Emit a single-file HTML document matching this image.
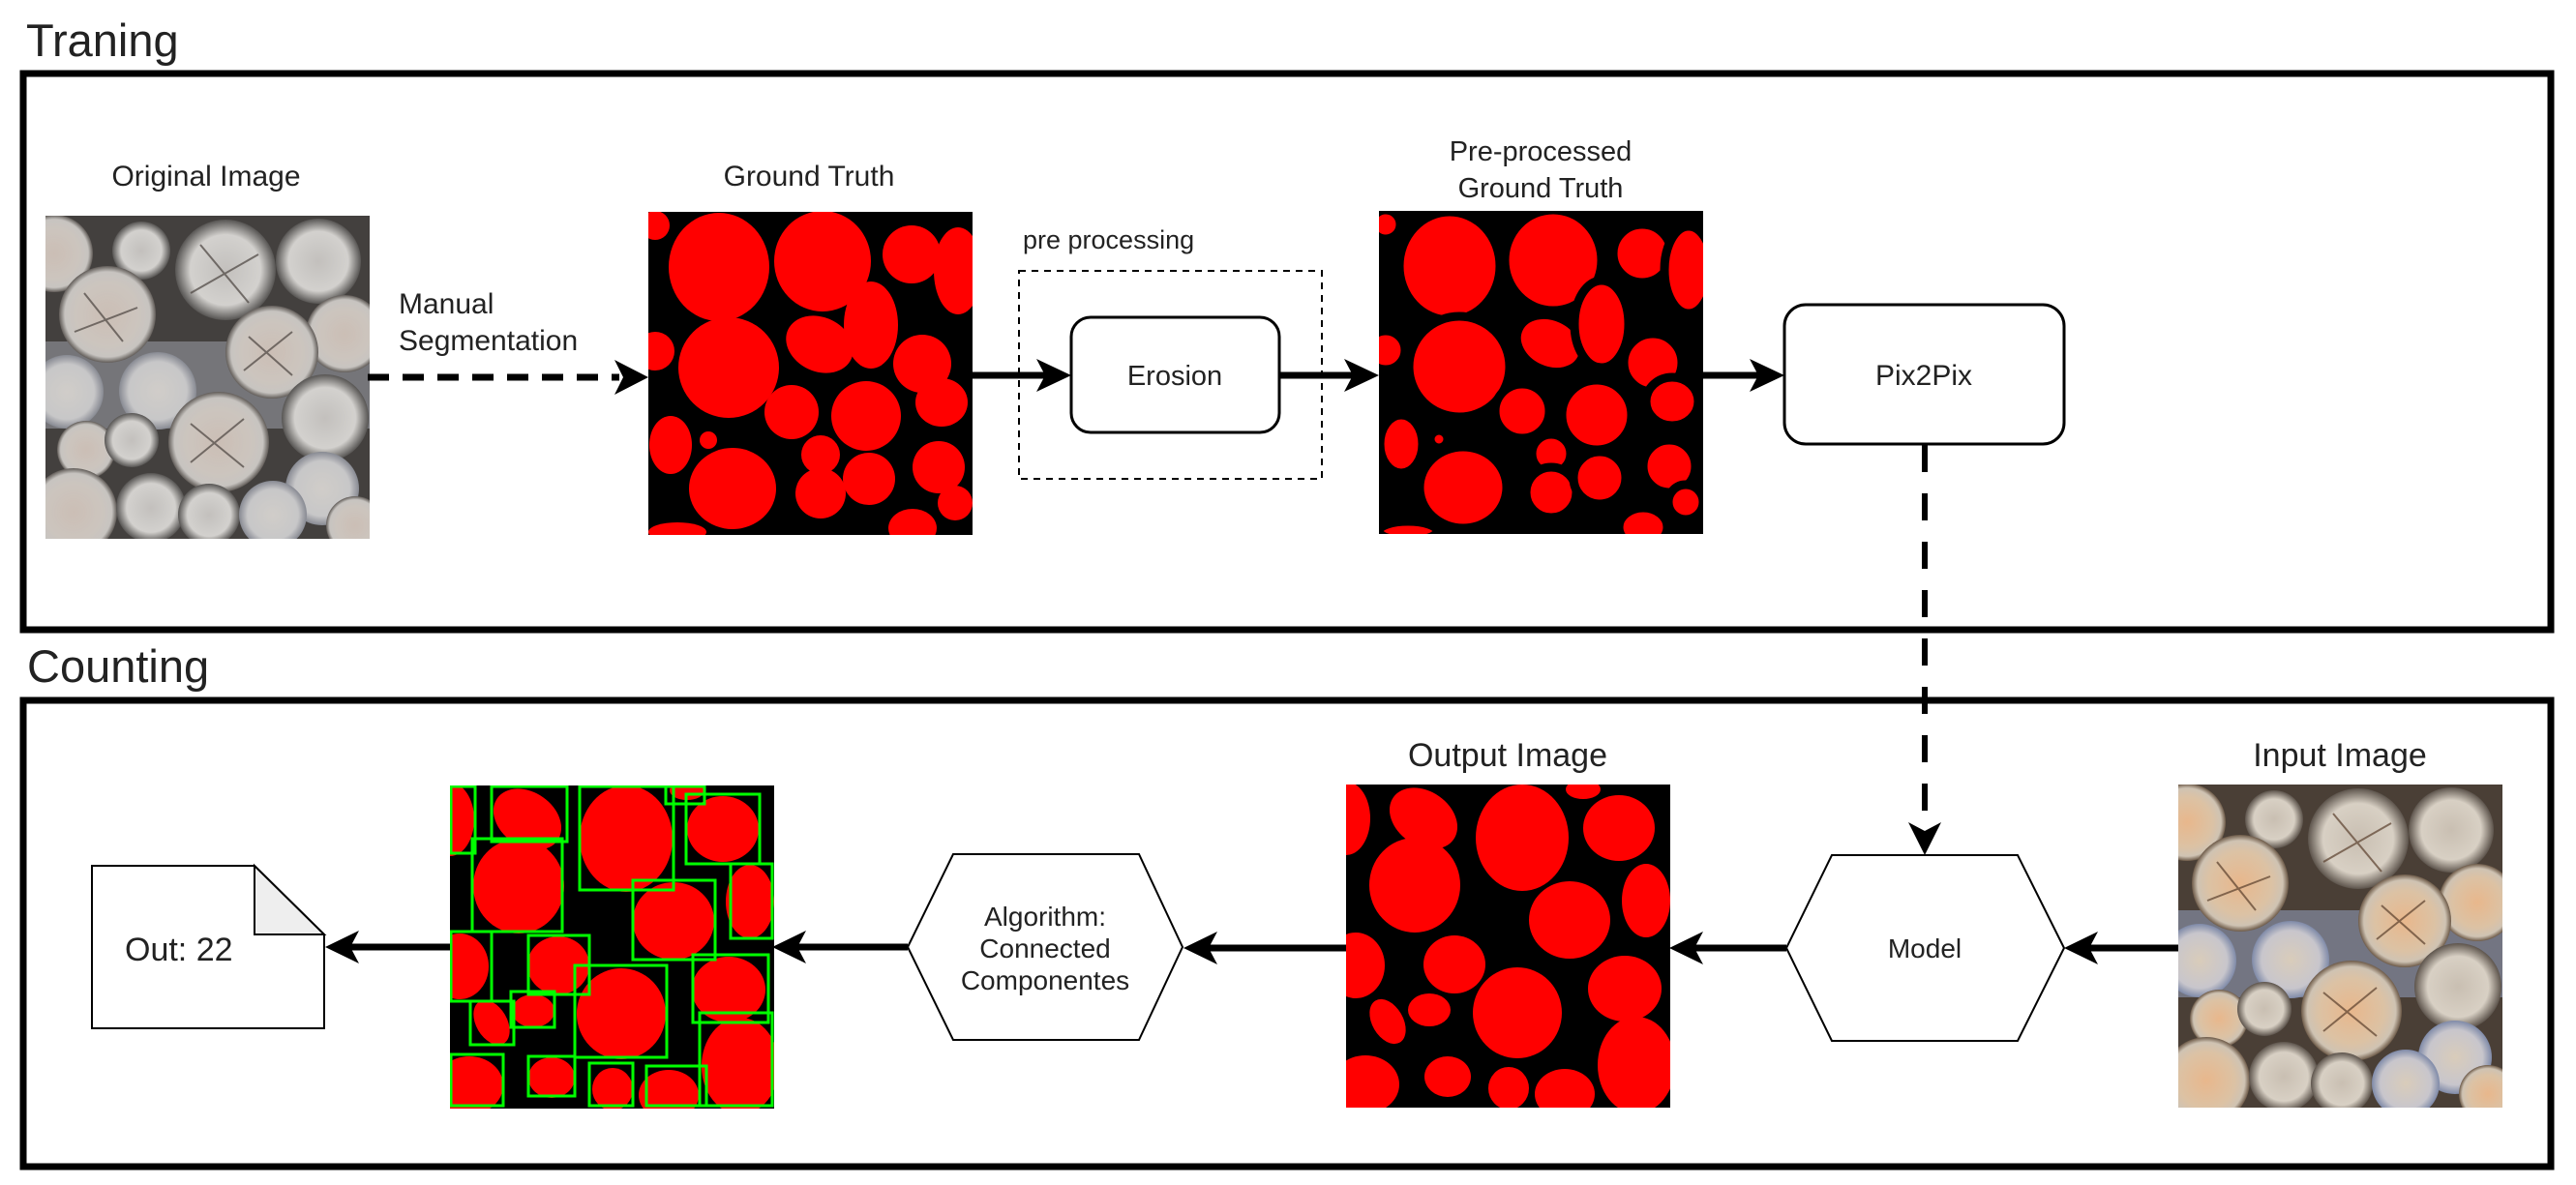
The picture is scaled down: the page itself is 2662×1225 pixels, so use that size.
<!DOCTYPE html>
<html><head><meta charset="utf-8"><style>
html,body{margin:0;padding:0;background:#fff;}
svg{display:block;}
text{font-family:"Liberation Sans",Arial,sans-serif;fill:#222;}
</style></head><body>
<svg width="2662" height="1225" viewBox="0 0 2662 1225" xmlns="http://www.w3.org/2000/svg">
<defs>
  <radialGradient id="lw" cx="50%" cy="50%" r="50%">
    <stop offset="0%" stop-color="#e8b78c"/><stop offset="65%" stop-color="#dcc2a4"/><stop offset="88%" stop-color="#cfc3b3"/><stop offset="100%" stop-color="#6d5a48"/>
  </radialGradient>
  <radialGradient id="lg" cx="50%" cy="50%" r="50%">
    <stop offset="0%" stop-color="#c9bfb2"/><stop offset="70%" stop-color="#d8d0c4"/><stop offset="100%" stop-color="#5d544c"/>
  </radialGradient>
  <radialGradient id="lb" cx="50%" cy="50%" r="50%">
    <stop offset="0%" stop-color="#d9ccba"/><stop offset="75%" stop-color="#c8c6cc"/><stop offset="100%" stop-color="#7f8aa8"/>
  </radialGradient>
  <filter id="desat"><feColorMatrix type="saturate" values="0.25"/></filter>
  <clipPath id="c333"><rect x="0" y="0" width="335" height="334"/></clipPath>
  <g id="wood">
    <rect x="0" y="0" width="335" height="334" fill="#4a3f36"/>
    <rect x="0" y="130" width="335" height="90" fill="#8f9ab6" opacity="0.6"/>
    <circle cx="9" cy="39" r="40" fill="url(#lw)"/>
    <circle cx="99" cy="36" r="30" fill="url(#lg)"/>
    <circle cx="186" cy="56" r="52" fill="url(#lg)"/>
    <circle cx="282" cy="47" r="44" fill="url(#lg)"/>
    <circle cx="64" cy="102" r="50" fill="url(#lw)"/>
    <circle cx="309" cy="122" r="40" fill="url(#lw)"/>
    <circle cx="234" cy="141" r="48" fill="url(#lw)"/>
    <circle cx="22" cy="182" r="38" fill="url(#lb)"/>
    <circle cx="116" cy="181" r="40" fill="url(#lb)"/>
    <circle cx="289" cy="209" r="45" fill="url(#lg)"/>
    <circle cx="42" cy="242" r="30" fill="url(#lw)"/>
    <circle cx="89" cy="232" r="28" fill="url(#lg)"/>
    <circle cx="179" cy="234" r="52" fill="url(#lw)"/>
    <circle cx="286" cy="282" r="38" fill="url(#lb)"/>
    <circle cx="29" cy="306" r="45" fill="url(#lw)"/>
    <circle cx="109" cy="302" r="36" fill="url(#lg)"/>
    <circle cx="169" cy="309" r="32" fill="url(#lg)"/>
    <circle cx="235" cy="309" r="35" fill="url(#lb)"/>
    <circle cx="320" cy="320" r="30" fill="url(#lw)"/>
    <g stroke="#5a3f2c" stroke-width="2" fill="none" opacity="0.7">
      <path d="M40 80 L80 130 M30 120 L95 95"/><path d="M160 30 L210 90 M150 80 L220 40"/>
      <path d="M210 125 L255 165 M205 160 L255 120"/><path d="M150 215 L205 260 M150 255 L205 210"/>
    </g>
  </g>
  <g id="gt" fill="#ff0000">
    <ellipse cx="7" cy="14" rx="15" ry="15"/>
    <ellipse cx="73" cy="57" rx="52" ry="56"/>
    <ellipse cx="180" cy="51" rx="50" ry="52"/>
    <circle cx="272" cy="44" r="30"/>
    <ellipse cx="320" cy="61" rx="25" ry="45"/>
    <circle cx="83" cy="161" r="52"/>
    <ellipse cx="177" cy="137" rx="36" ry="28" transform="rotate(25 177 137)"/>
    <ellipse cx="230" cy="117" rx="28" ry="45"/>
    <circle cx="283" cy="157" r="30"/>
    <ellipse cx="303" cy="197" rx="27" ry="25"/>
    <circle cx="7" cy="144" r="20"/>
    <circle cx="148" cy="207" r="28"/>
    <circle cx="225" cy="211" r="36"/>
    <ellipse cx="23" cy="241" rx="22" ry="30"/>
    <circle cx="62" cy="236" r="9"/>
    <ellipse cx="87" cy="286" rx="45" ry="42"/>
    <circle cx="178" cy="251" r="20"/>
    <circle cx="178" cy="291" r="26"/>
    <circle cx="228" cy="276" r="27"/>
    <circle cx="300" cy="264" r="27"/>
    <circle cx="317" cy="301" r="18"/>
    <ellipse cx="273" cy="327" rx="25" ry="20"/>
    <ellipse cx="30" cy="331" rx="30" ry="10"/>
  </g>
  <g id="out" fill="#ff0000">
    <ellipse cx="0" cy="35" rx="25" ry="38"/>
    <ellipse cx="80" cy="35" rx="38" ry="28" transform="rotate(35 80 35)"/>
    <ellipse cx="182" cy="55" rx="48" ry="55"/>
    <ellipse cx="282" cy="45" rx="37" ry="34"/>
    <ellipse cx="245" cy="5" rx="18" ry="10"/>
    <ellipse cx="71" cy="104" rx="47" ry="49"/>
    <ellipse cx="231" cy="140" rx="42" ry="40"/>
    <ellipse cx="310" cy="120" rx="25" ry="38"/>
    <ellipse cx="10" cy="187" rx="30" ry="34"/>
    <ellipse cx="112" cy="186" rx="32" ry="30"/>
    <ellipse cx="288" cy="211" rx="38" ry="34"/>
    <ellipse cx="177" cy="236" rx="46" ry="47"/>
    <ellipse cx="86" cy="233" rx="22" ry="17"/>
    <ellipse cx="43" cy="245" rx="16" ry="25" transform="rotate(-30 43 245)"/>
    <ellipse cx="20" cy="310" rx="35" ry="30"/>
    <ellipse cx="105" cy="302" rx="24" ry="21"/>
    <ellipse cx="168" cy="314" rx="21" ry="22"/>
    <ellipse cx="226" cy="320" rx="31" ry="26"/>
    <ellipse cx="300" cy="290" rx="40" ry="50"/>
  </g>
</defs>

<text x="27" y="58" font-size="47">Traning</text>
<text x="28" y="705" font-size="47">Counting</text>

<rect x="24" y="76" width="2612" height="575" fill="none" stroke="#000" stroke-width="7"/>
<rect x="24" y="724" width="2612" height="482" fill="none" stroke="#000" stroke-width="7"/>

<text x="213" y="192" font-size="30" text-anchor="middle">Original Image</text>
<g transform="translate(47,223)" clip-path="url(#c333)" filter="url(#desat)"><use href="#wood"/></g>

<text x="412" y="324" font-size="30">Manual</text>
<text x="412" y="362" font-size="30">Segmentation</text>
<line x1="380" y1="390" x2="640" y2="390" stroke="#000" stroke-width="7" stroke-dasharray="22 14"/>
<polygon points="670,390 635,372 644,390 635,408" fill="#000"/>

<text x="836" y="192" font-size="30" text-anchor="middle">Ground Truth</text>
<g transform="translate(670,219)" clip-path="url(#c333)"><rect width="335" height="334" fill="#000"/><use href="#gt"/></g>

<text x="1057" y="257" font-size="27">pre processing</text>
<rect x="1053" y="280" width="313" height="215" fill="none" stroke="#000" stroke-width="2" stroke-dasharray="7 6"/>
<line x1="1003" y1="388" x2="1080" y2="388" stroke="#000" stroke-width="7"/>
<polygon points="1107,388 1071,371 1080,388 1071,405" fill="#000"/>
<rect x="1107" y="328" width="215" height="119" rx="20" fill="#fff" stroke="#000" stroke-width="3"/>
<text x="1214" y="398" font-size="29" text-anchor="middle">Erosion</text>
<line x1="1322" y1="388" x2="1400" y2="388" stroke="#000" stroke-width="7"/>
<polygon points="1425,388 1389,371 1398,388 1389,405" fill="#000"/>

<text x="1592" y="166" font-size="29" text-anchor="middle">Pre-processed</text>
<text x="1592" y="204" font-size="29" text-anchor="middle">Ground Truth</text>
<g transform="translate(1425,218)" clip-path="url(#c333)"><rect width="335" height="335" fill="#000"/><use href="#gt" stroke="#000" stroke-width="9"/></g>

<line x1="1760" y1="388" x2="1818" y2="388" stroke="#000" stroke-width="7"/>
<polygon points="1844,388 1808,371 1817,388 1808,405" fill="#000"/>
<rect x="1844" y="315" width="289" height="144" rx="22" fill="#fff" stroke="#000" stroke-width="3"/>
<text x="1988" y="398" font-size="30" text-anchor="middle">Pix2Pix</text>

<line x1="1989" y1="460" x2="1989" y2="858" stroke="#000" stroke-width="6" stroke-dasharray="28 22"/>
<polygon points="1989,884 1972,850 1989,859 2006,850" fill="#000"/>

<text x="2418" y="792" font-size="34" text-anchor="middle">Input Image</text>
<g transform="translate(2251,811)" clip-path="url(#c333)"><use href="#wood"/></g>

<line x1="2251" y1="980" x2="2158" y2="980" stroke="#000" stroke-width="7"/>
<polygon points="2133,980 2168,963 2159,980 2168,997" fill="#000"/>
<polygon points="1893,884 2085,884 2133,980 2085,1076 1893,1076 1846,980" fill="#fff" stroke="#000" stroke-width="2"/>
<text x="1989" y="990" font-size="28" text-anchor="middle">Model</text>

<text x="1558" y="792" font-size="34" text-anchor="middle">Output Image</text>
<line x1="1846" y1="980" x2="1750" y2="980" stroke="#000" stroke-width="7"/>
<polygon points="1725,980 1760,963 1751,980 1760,997" fill="#000"/>
<g transform="translate(1391,811)" clip-path="url(#c333)"><rect width="335" height="334" fill="#000"/><use href="#out"/></g>

<line x1="1391" y1="980" x2="1248" y2="980" stroke="#000" stroke-width="7"/>
<polygon points="1223,980 1258,963 1249,980 1258,997" fill="#000"/>
<polygon points="985,883 1177,883 1222,979 1177,1075 985,1075 938,979" fill="#fff" stroke="#000" stroke-width="2"/>
<text x="1080" y="957" font-size="28" text-anchor="middle">Algorithm:</text>
<text x="1080" y="990" font-size="28" text-anchor="middle">Connected</text>
<text x="1080" y="1023" font-size="28" text-anchor="middle">Componentes</text>

<line x1="938" y1="979" x2="823" y2="979" stroke="#000" stroke-width="7"/>
<polygon points="798,979 833,962 824,979 833,996" fill="#000"/>
<g transform="translate(465,812)" clip-path="url(#c333)">
  <rect width="335" height="334" fill="#000"/><use href="#out"/>
  <g fill="none" stroke="#00ff00" stroke-width="3">
    <rect x="1" y="1" width="25" height="69"/><rect x="43" y="1" width="78" height="57"/>
    <rect x="134" y="1" width="97" height="107"/><rect x="223" y="1" width="40" height="18"/>
    <rect x="244" y="9" width="76" height="72"/><rect x="23" y="55" width="93" height="96"/>
    <rect x="189" y="98" width="85" height="82"/><rect x="290" y="81" width="43" height="77"/>
    <rect x="1" y="151" width="42" height="72"/><rect x="81" y="155" width="63" height="61"/>
    <rect x="129" y="186" width="95" height="95"/><rect x="63" y="213" width="45" height="37"/>
    <rect x="21" y="223" width="45" height="45"/><rect x="251" y="175" width="78" height="70"/>
    <rect x="258" y="235" width="75" height="96"/><rect x="1" y="278" width="54" height="53"/>
    <rect x="81" y="280" width="48" height="41"/><rect x="144" y="287" width="45" height="44"/>
    <rect x="203" y="290" width="62" height="41"/>
  </g>
</g>

<line x1="465" y1="979" x2="362" y2="979" stroke="#000" stroke-width="7"/>
<polygon points="336,979 371,962 362,979 371,996" fill="#000"/>
<polygon points="95,895 263,895 335,966 335,1063 95,1063" fill="#fff" stroke="#000" stroke-width="2"/>
<polygon points="263,895 263,966 335,966" fill="#eee" stroke="#000" stroke-width="2"/>
<text x="129" y="993" font-size="34">Out: 22</text>
</svg>
</body></html>
